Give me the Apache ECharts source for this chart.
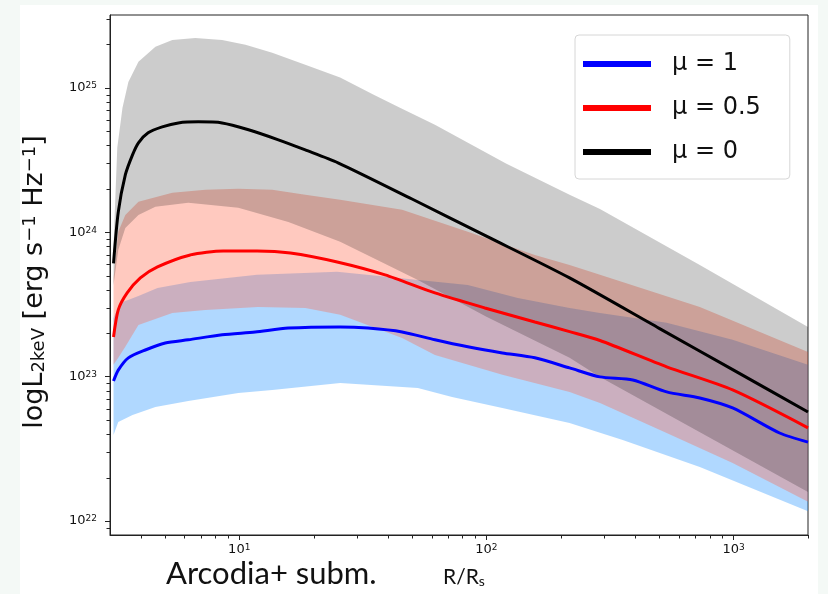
<!DOCTYPE html>
<html>
<head>
<meta charset="utf-8">
<script src="https://cdn.jsdelivr.net/npm/echarts@6/dist/echarts.min.js"></script>
<style>
  html, body { margin: 0; padding: 0; background: #f4f9f6; }
  #paper { position: absolute; left: 20px; top: 5px; width: 798px; height: 589px; background: #fff; }
  #chart { position: absolute; left: 0; top: 0; width: 828px; height: 594px; }
</style>
</head>
<body>
<div id="paper"></div>
<div id="chart"></div>
<script>
// axis range and tick positions
var xMin = 3, xMax = 2000
var yMin = 8e21, yMax = 3.2e25
var xMajor = [10, 100, 1000]
var xMinor = [4, 5, 6, 7, 8, 9, 20, 30, 40, 50, 60, 70, 80, 90, 200, 300, 400, 500, 600, 700, 800, 900, 2000]
var yMajor = [1e22, 1e23, 1e24, 1e25]
var yMinor = [9e21, 2e22, 3e22, 4e22, 5e22, 6e22, 7e22, 8e22, 9e22,
  2e23, 3e23, 4e23, 5e23, 6e23, 7e23, 8e23, 9e23,
  2e24, 3e24, 4e24, 5e24, 6e24, 7e24, 8e24, 9e24, 2e25, 3e25]

// legend names
var names = ['μ = 1', 'μ = 0.5', 'μ = 0']

// [R/Rs, L2keV]
var grayUpper = [[3.1, 8.2e23], [3.21, 3.85e24], [3.37, 7.3e24], [3.56, 1.1e25], [3.91, 1.52e25], [4.58, 1.93e25],
  [5.36, 2.15e25], [6.64, 2.22e25], [8.53, 2.15e25], [10.6, 1.99e25], [13.6, 1.75e25], [18.5, 1.45e25],
  [25.6, 1.18e25], [35, 8.96e24], [44.7, 7.3e24], [61.9, 5.55e24], [120, 3.0e24], [217, 1.82e24], [288, 1.45e24],
  [730, 5.94e23], [2000, 2.21e23]]
var grayLower = [[3.1, 4.3e23], [3.24, 7.55e23], [3.46, 1.07e24], [3.91, 1.32e24], [4.58, 1.5e24], [6.22, 1.6e24],
  [9.91, 1.48e24], [15.8, 1.18e24], [25.6, 8.6e23], [52.8, 4.68e23], [100, 2.6e23], [217, 1.35e23],
  [288, 9.96e22], [2000, 1.59e22]]

var redUpper = [[3.1, 4.83e23], [3.24, 1.01e24], [3.46, 1.32e24], [3.91, 1.63e24], [5.36, 1.88e24], [7.3, 1.97e24],
  [9.91, 2.0e24], [13.6, 1.97e24], [18.5, 1.82e24], [25.6, 1.68e24], [45.6, 1.43e24], [84.1, 1.01e24],
  [157, 6.97e23], [217, 5.94e23], [288, 5.07e23], [730, 3.04e23], [2000, 1.48e23]]
var redLower = [[3.1, 1.21e23], [3.24, 1.35e23], [3.46, 1.61e23], [3.91, 2.28e23], [5.36, 2.76e23], [7.3, 2.9e23],
  [11.9, 3.04e23], [18.5, 2.99e23], [25.6, 2.68e23], [45.6, 1.85e23], [61.9, 1.41e23], [116, 1.03e23],
  [217, 7.84e22], [288, 6.58e22], [536, 4.07e22], [991, 2.52e22], [2000, 1.36e22]]

var blueUpper = [[3.1, 2.55e23], [3.3, 3.24e23], [3.91, 3.62e23], [4.67, 4.12e23], [6.34, 4.53e23], [11.8, 5.07e23],
  [24.9, 5.32e23], [84.1, 4.32e23], [134, 3.51e23], [217, 2.99e23], [288, 2.76e23], [536, 2.36e23],
  [991, 1.8e23], [2000, 1.21e23]]
var blueLower = [[3.1, 3.94e22], [3.24, 4.85e22], [3.7, 5.43e22], [4.58, 6.17e22], [6.22, 6.79e22], [9.91, 7.71e22],
  [13.6, 8.09e22], [25.6, 9.04e22], [52.8, 8.35e22], [72.6, 7.23e22], [116, 6.07e22], [217, 4.77e22],
  [356, 3.64e22], [730, 2.37e22], [2000, 1.17e22]]

var blackLine = [[3.1, 6.1e23], [3.24, 1.38e24], [3.46, 2.5e24], [3.7, 3.44e24], [3.91, 4.17e24], [4.28, 4.89e24],
  [4.88, 5.37e24], [5.67, 5.72e24], [6.83, 5.82e24], [8.53, 5.72e24], [10.9, 5.13e24], [14.4, 4.37e24],
  [18.5, 3.72e24], [25.1, 3.03e24], [50, 1.7e24], [100, 9.4e23], [217, 4.83e23], [500, 2.16e23],
  [1000, 1.11e23], [2000, 5.69e22]]
var redLine = [[3.1, 1.88e23], [3.24, 2.9e23], [3.52, 3.8e23], [3.98, 4.83e23], [4.67, 5.76e23], [6.34, 6.97e23],
  [8.61, 7.43e23], [11.8, 7.43e23], [16.1, 7.19e23], [24.9, 6.23e23], [38.9, 5.07e23], [61.9, 3.8e23],
  [98.6, 2.99e23], [157, 2.39e23], [217, 2.05e23], [288, 1.78e23], [536, 1.17e23], [991, 8.09e22], [2000, 4.42e22]]
var blueLine = [[3.1, 9.33e22], [3.24, 1.11e23], [3.56, 1.35e23], [4.17, 1.53e23], [5.02, 1.71e23], [6.22, 1.8e23],
  [8.53, 1.95e23], [11.6, 2.04e23], [15.8, 2.17e23], [25.6, 2.21e23], [33.2, 2.17e23], [45.6, 2.04e23],
  [61.9, 1.8e23], [84.1, 1.61e23], [116, 1.46e23], [157, 1.35e23], [217, 1.15e23], [288, 9.96e22],
  [391, 9.49e22], [536, 7.84e22], [730, 7.12e22], [991, 6.07e22], [1535, 4.07e22], [2000, 3.52e22]]

var font = 'DejaVu Sans'
var ink = '#111'

function powLabel(v) {
  return '{b|10}{s|' + Math.round(Math.log10(v)) + '}'
}
var powRich = {
  b: { fontFamily: font, fontSize: 13, color: ink },
  s: { fontFamily: font, fontSize: 9, color: ink, verticalAlign: 'top' }
}

// filled range between two edges, drawn as one polygon through the axes
function band(name, upper, lower, color) {
  return {
    name: name,
    type: 'custom',
    silent: true,
    data: [upper[0]],
    renderItem: function (params, api) {
      var pts = upper.map(function (p) { return api.coord(p) })
        .concat(lower.slice().reverse().map(function (p) { return api.coord(p) }))
      return { type: 'polygon', shape: { points: pts }, style: { fill: color } }
    }
  }
}

function curve(name, data, color) {
  return {
    name: name,
    type: 'line',
    data: data,
    showSymbol: false,
    smooth: 0.25,
    lineStyle: { color: color, width: 3 },
    itemStyle: { color: color }
  }
}

// short minor ticks on the log axes
var minorTicks = {
  type: 'custom',
  silent: true,
  clip: false,
  z: 6,
  data: [[10, 1e23]],
  renderItem: function (params, api) {
    var kids = []
    xMinor.forEach(function (v) {
      var p = api.coord([v, yMin])
      var x = Math.round(p[0]) + 0.5
      kids.push({ type: 'line', shape: { x1: x, y1: p[1], x2: x, y2: p[1] + 3.5 }, style: { stroke: '#222', lineWidth: 1 } })
    })
    yMinor.forEach(function (v) {
      var p = api.coord([xMin, v])
      var y = Math.round(p[1]) + 0.5
      kids.push({ type: 'line', shape: { x1: p[0] - 3.5, y1: y, x2: p[0], y2: y }, style: { stroke: '#222', lineWidth: 1 } })
    })
    return { type: 'group', children: kids }
  }
}

var myChart = echarts.init(document.getElementById('chart'))
var option = {
  animation: false,
  grid: {
    left: 110,
    right: 20,
    top: 15,
    bottom: 59,
    show: true,
    borderColor: '#222',
    borderWidth: 1,
    backgroundColor: 'transparent'
  },
  legend: {
    data: names,
    orient: 'vertical',
    left: 575,
    top: 35,
    icon: 'rect',
    itemWidth: 68,
    itemHeight: 6,
    itemGap: 20,
    padding: [17, 29, 15, 8],
    borderColor: '#d6d6d6',
    borderWidth: 1,
    borderRadius: 4,
    backgroundColor: '#fff',
    textStyle: { fontFamily: font, fontSize: 24, color: ink, padding: [0, 0, 0, 16] }
  },
  xAxis: {
    type: 'log',
    min: xMin,
    max: xMax,
    name: '{r|R/R}{sub|s}',
    nameLocation: 'middle',
    nameGap: 32,
    nameTextStyle: {
      padding: [0, 0, 0, 10],
      rich: {
        r: { fontFamily: 'Lato', fontSize: 21, color: ink },
        sub: { fontFamily: 'Lato', fontSize: 14, color: ink, verticalAlign: 'bottom' }
      }
    },
    axisLine: { show: true, lineStyle: { color: '#222', width: 1 } },
    axisTick: { show: true, length: 5, lineStyle: { color: '#222' }, customValues: xMajor },
    axisLabel: { customValues: xMajor, formatter: powLabel, rich: powRich, margin: 8 },
    splitLine: { show: false }
  },
  yAxis: {
    type: 'log',
    min: yMin,
    max: yMax,
    name: '{b|logL}{sub|2keV}{b| [erg s}{sup|−1}{b| Hz}{sup|−1}{b|]}',
    nameLocation: 'middle',
    nameRotate: 90,
    nameGap: 62,
    nameTextStyle: {
      padding: [0, 14, 0, 0],
      rich: {
        b: { fontFamily: font, fontSize: 27, color: ink },
        sub: { fontFamily: font, fontSize: 18, color: ink, verticalAlign: 'bottom' },
        sup: { fontFamily: font, fontSize: 18, color: ink, verticalAlign: 'top' }
      }
    },
    axisLine: { show: true, lineStyle: { color: '#222', width: 1 } },
    axisTick: { show: true, length: 5, lineStyle: { color: '#222' }, customValues: yMajor },
    axisLabel: { customValues: yMajor, formatter: powLabel, rich: powRich, margin: 13 },
    splitLine: { show: false }
  },
  graphic: [
    {
      type: 'text',
      left: 166,
      top: 558,
      style: { text: 'Arcodia+ subm.', font: '31px Lato', fill: ink }
    }
  ],
  series: [
    band('band μ = 1', blueUpper, blueLower, 'rgba(30,144,255,0.35)'),
    band('band μ = 0.5', redUpper, redLower, 'rgba(255,99,71,0.35)'),
    band('band μ = 0', grayUpper, grayLower, 'rgba(0,0,0,0.2)'),
    curve(names[2], blackLine, '#000000'),
    curve(names[1], redLine, '#ff0000'),
    curve(names[0], blueLine, '#0000ff'),
    minorTicks
  ]
}
myChart.setOption(option)
</script>
</body>
</html>
